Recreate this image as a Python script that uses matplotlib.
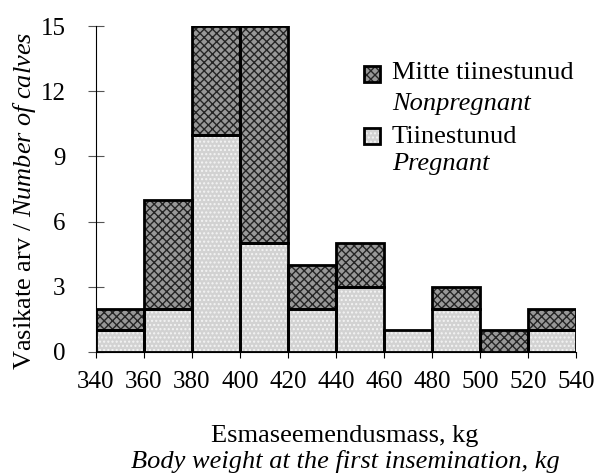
import matplotlib
matplotlib.use("Agg")
import matplotlib.pyplot as plt
import numpy as np
from matplotlib.patches import Rectangle

plt.rcParams["font.family"] = ["Liberation Serif", "DejaVu Serif"]
plt.rcParams["mathtext.fontset"] = "custom"
plt.rcParams["mathtext.rm"] = "Liberation Serif"
plt.rcParams["mathtext.it"] = "Liberation Serif:italic"
plt.rcParams["hatch.linewidth"] = 1.0

bin_edges = [340, 360, 380, 400, 420, 440, 460, 480, 500, 520, 540]
pregnant = [1, 2, 10, 5, 2, 3, 1, 2, 0, 1]
nonpregnant = [1, 5, 5, 10, 2, 2, 0, 1, 1, 1]
y_ticks = [0, 3, 6, 9, 12, 15]

preg_face, preg_hatch = "#d2d2d2", "#f4f4f4"
non_face, non_hatch = "#989898", "#252525"
FS = 19

fig = plt.figure(figsize=(5.95, 4.75), dpi=100)
ax = fig.add_axes([0.161, 0.259, 0.807, 0.686])

left = np.array(bin_edges[:-1])
width = np.diff(bin_edges)
preg = np.array(pregnant)
non = np.array(nonpregnant)

# fill with hatch first, outlines on top
ax.bar(left, preg, width=width, align="edge", color=preg_face,
       edgecolor=preg_hatch, hatch="....", linewidth=0)
ax.bar(left, non, width=width, bottom=preg, align="edge", color=non_face,
       edgecolor=non_hatch, hatch="xxxx", linewidth=0)
for l, w, p, n in zip(left, width, preg, non):
    if p > 0:
        ax.add_patch(Rectangle((l, 0), w, p, fill=False, ec="black", lw=2, zorder=3))
    if n > 0:
        ax.add_patch(Rectangle((l, p), w, n, fill=False, ec="black", lw=2, zorder=3))

ax.set_xlim(340, 540)
ax.set_ylim(0, 15)
ax.set_xticks(bin_edges)
ax.set_yticks(y_ticks)
ax.tick_params(axis="x", direction="out", length=4, labelsize=18, pad=10)
ax.tick_params(axis="y", direction="inout", length=11.5, labelsize=18, pad=16, color="#555555")
for s in ["top", "right"]:
    ax.spines[s].set_visible(False)

fig.text(25 / 595, 1 - 201 / 475, r"Vasikate arv / $\it{Number\ of\ calves}$",
         fontsize=FS, rotation=90, ha="center", va="center")
fig.text(345 / 595, 1 - 442 / 475, "Esmaseemendusmass, kg", fontsize=FS,
         ha="center", va="baseline")
fig.text(345 / 595, 1 - 468 / 475, "Body weight at the first insemination, kg",
         fontsize=FS, ha="center", va="baseline", style="italic")

# legend drawn by hand
def legend_item(y_sq, face, hcol, hatch, top_txt, bot_txt, y_top, y_bot):
    xy = (364 / 595, 1 - (y_sq + 16) / 475)
    fig.add_artist(Rectangle(xy, 16 / 595, 16 / 475, transform=fig.transFigure,
                             facecolor=face, edgecolor=hcol, hatch=hatch, linewidth=0))
    fig.add_artist(Rectangle(xy, 16 / 595, 16 / 475, transform=fig.transFigure,
                             fill=False, ec="black", lw=2))
    fig.text(392 / 595, 1 - y_top / 475, top_txt, fontsize=FS, va="center")
    fig.text(392 / 595, 1 - y_bot / 475, bot_txt, fontsize=FS, va="center", style="italic")

legend_item(66, non_face, non_hatch, "xxxx", "Mitte tiinestunud", "Nonpregnant", 73, 104)
legend_item(128, preg_face, preg_hatch, "....", "Tiinestunud", "Pregnant", 137, 164)

fig.savefig("out.png", dpi=100)
